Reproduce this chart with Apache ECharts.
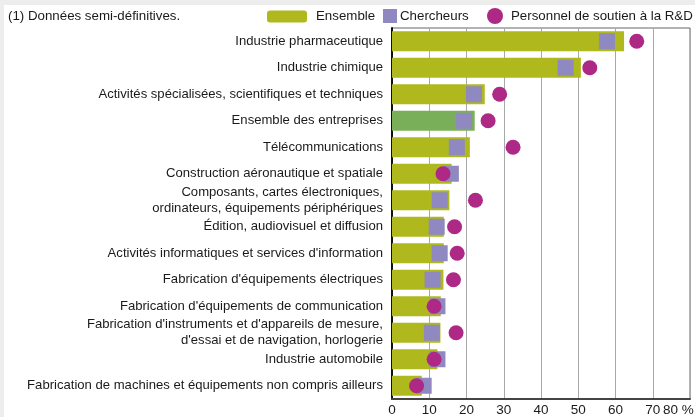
<!DOCTYPE html>
<html>
<head>
<meta charset="utf-8">
<script src="https://cdn.jsdelivr.net/npm/echarts@6/dist/echarts.min.js"></script>
<style>
html, body { margin: 0; padding: 0; background: #ededed; }
#main { width: 695px; height: 417px; }
</style>
</head>
<body>
<div id="main"></div>
<script>
var categories = [
	'Industrie pharmaceutique',
	'Industrie chimique',
	'Activités spécialisées, scientifiques et techniques',
	'Ensemble des entreprises',
	'Télécommunications',
	'Construction aéronautique et spatiale',
	'Composants, cartes électroniques,\nordinateurs, équipements périphériques',
	'Édition, audiovisuel et diffusion',
	"Activités informatiques et services d'information",
	"Fabrication d'équipements électriques",
	"Fabrication d'équipements de communication",
	"Fabrication d'instruments et d'appareils de mesure,\nd'essai et de navigation, horlogerie",
	'Industrie automobile',
	'Fabrication de machines et équipements non compris ailleurs'
];
var ensemble = [62.3, 50.7, 24.9, 22.2, 20.9, 16.0, 15.4, 13.9, 13.9, 13.8, 13.1, 13.0, 12.2, 8.0];
var chercheurs = [57.7, 46.6, 22.0, 19.3, 17.4, 15.8, 12.8, 12.0, 12.8, 10.9, 12.2, 10.7, 12.2, 8.5];
var soutien = [65.7, 53.1, 28.9, 25.8, 32.5, 13.7, 22.4, 16.8, 17.5, 16.5, 11.3, 17.2, 11.3, 6.6];
var xTicks = [0, 10, 20, 30, 40, 50, 60, 70, 80];
var highlighted = 'Ensemble des entreprises';

var font = 'Liberation Sans, Arial, sans-serif';
var myChart = echarts.init(document.getElementById('main'));

var ensembleData = ensemble.map(function(v, i) {
	if (categories[i] == highlighted) {
		return { value: v, itemStyle: { color: '#7aaf59' } };
	}
	return v;
});

option = {
	backgroundColor: '#ededed',
	animation: false,
	textStyle: { fontFamily: font },
	graphic: [{
		type: 'rect',
		z: -10,
		shape: { x: 4, y: 5, width: 695, height: 417 },
		style: { fill: '#ffffff' }
	}, {
		type: 'text',
		left: 8,
		top: 10,
		style: { text: '(1) Données semi-définitives.', fill: '#1a1a1a', font: '13.3px ' + font }
	}],
	legend: [{
		data: ['Ensemble'],
		left: 267,
		top: 10,
		padding: 0,
		itemWidth: 40,
		itemHeight: 12,
		textStyle: { fontSize: 13.3, color: '#1a1a1a', padding: [0, 0, 0, 4] }
	}, {
		data: ['Chercheurs'],
		left: 383,
		top: 9,
		padding: 0,
		itemWidth: 14,
		itemHeight: 14,
		textStyle: { fontSize: 13.3, color: '#1a1a1a', padding: [0, 0, 0, -2] }
	}, {
		data: ['Personnel de soutien à la R&D'],
		left: 487,
		top: 8,
		padding: 0,
		itemWidth: 16,
		itemHeight: 16,
		textStyle: { fontSize: 13.3, color: '#1a1a1a', padding: [0, 0, 0, 3] }
	}],
	grid: {
		left: 392,
		right: 5,
		top: 28,
		bottom: 18,
		outerBoundsMode: 'none',
		show: true,
		borderColor: '#666',
		borderWidth: 1
	},
	xAxis: {
		type: 'value',
		min: 0,
		max: 80,
		interval: 10,
		axisLine: { show: true, lineStyle: { color: '#444', width: 2 } },
		axisTick: { show: false },
		splitLine: { show: true, lineStyle: { color: '#a8a8a8', width: 1 } },
		axisLabel: {
			fontSize: 13.5,
			color: '#1a1a1a',
			margin: 4,
			showMaxLabel: true,
			alignMaxLabel: 'right',
			formatter: function(v) {
				return v == xTicks[xTicks.length - 1] ? '{t|' + v + ' %}' : v;
			},
			rich: {
				t: { fontSize: 13.5, width: 27, align: 'left', color: '#1a1a1a' }
			}
		}
	},
	yAxis: {
		type: 'category',
		inverse: true,
		data: categories,
		axisLine: { show: true, lineStyle: { color: '#111', width: 2 } },
		axisTick: { show: false },
		axisLabel: {
			fontSize: 13.1,
			lineHeight: 16,
			color: '#1a1a1a',
			margin: 9,
			interval: 0
		}
	},
	series: [{
		name: 'Ensemble',
		type: 'bar',
		barWidth: 20,
		itemStyle: { color: '#afb81c' },
		data: ensembleData,
		z: 2
	}, {
		name: 'Chercheurs',
		type: 'scatter',
		symbol: 'rect',
		symbolSize: 16,
		itemStyle: { color: '#8f88c1', opacity: 1 },
		data: chercheurs.map(function(v, i) { return [v, i]; }),
		z: 3
	}, {
		name: 'Personnel de soutien à la R&D',
		type: 'scatter',
		symbol: 'circle',
		symbolSize: 15,
		itemStyle: { color: '#ae2886', opacity: 1 },
		data: soutien.map(function(v, i) { return [v, i]; }),
		z: 4
	}]
};

myChart.setOption(option);
</script>
</body>
</html>
